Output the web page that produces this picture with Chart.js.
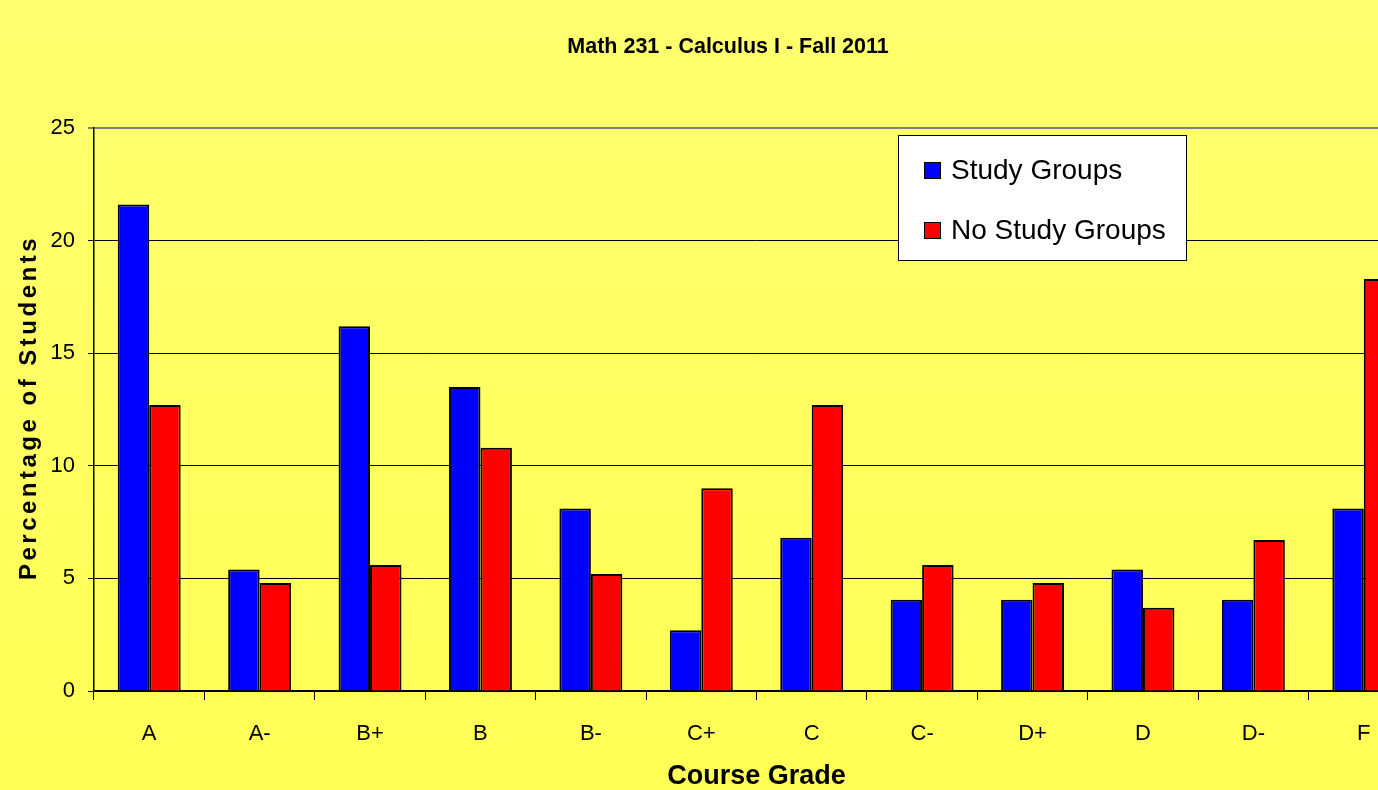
<!DOCTYPE html>
<html>
<head>
<meta charset="utf-8">
<script src="https://cdn.jsdelivr.net/npm/chart.js@4.4.1/dist/chart.umd.min.js"></script>
<style>
  html, body { margin: 0; padding: 0; overflow: hidden; }
  body { width: 1378px; height: 790px; background: linear-gradient(#ffff70, #ffff55); }
  #wrap { width: 1456px; height: 790px; position: relative; }
</style>
</head>
<body>
<div id="wrap"><canvas id="grafico"></canvas></div>
<script>
const grades = ["A", "A-", "B+", "B", "B-", "C+", "C", "C-", "D+", "D", "D-", "F"];
const studyGroups = [21.6, 5.4, 16.2, 13.5, 8.1, 2.7, 6.8, 4.05, 4.05, 5.4, 4.05, 8.1];
const noStudyGroups = [12.7, 4.8, 5.6, 10.8, 5.2, 9.0, 12.7, 5.6, 4.8, 3.7, 6.7, 18.3];
const seriesNames = ["Study Groups", "No Study Groups"];
const yTicks = [0, 5, 10, 15, 20, 25];
const yTitle = "Percentage of Students";

const FONT = "'Liberation Sans', Arial, sans-serif";

// legenda desenhada dentro da area do grafico
const legendaInterna = {
  id: "legendaInterna",
  afterDraw(chart) {
    const { ctx, chartArea } = chart;
    const x = chartArea.left + 804;
    const y = chartArea.top + 7;
    const w = 288, h = 125;
    ctx.save();
    ctx.fillStyle = "#fff";
    ctx.fillRect(x, y, w, h);
    ctx.strokeStyle = "#000";
    ctx.lineWidth = 1;
    ctx.strokeRect(x + 0.5, y + 0.5, w, h);
    ctx.font = "28px " + FONT;
    ctx.textBaseline = "middle";
    chart.data.datasets.forEach((ds, i) => {
      const cy = y + 35 + i * 60;
      ctx.fillStyle = ds.backgroundColor;
      ctx.fillRect(x + 26, cy - 8, 17, 17);
      ctx.strokeRect(x + 26.5, cy - 7.5, 16, 16);
      ctx.fillStyle = "#000";
      ctx.fillText(ds.label, x + 53, cy + 1);
    });
    ctx.restore();
  }
};

// titulo do eixo y com espacamento entre letras
const tituloY = {
  id: "tituloY",
  afterDraw(chart) {
    const { ctx, chartArea } = chart;
    ctx.save();
    ctx.translate(29, (chartArea.top + chartArea.bottom) / 2);
    ctx.rotate(-Math.PI / 2);
    ctx.font = "bold 24px " + FONT;
    ctx.letterSpacing = "3.5px";
    ctx.fillStyle = "#000";
    ctx.textAlign = "center";
    ctx.textBaseline = "middle";
    ctx.fillText(yTitle, 2, 0);
    ctx.restore();
  }
};

new Chart(document.getElementById("grafico"), {
  type: "bar",
  data: {
    labels: grades,
    datasets: [
      { label: seriesNames[0], data: studyGroups, backgroundColor: "#0000ff", borderColor: "#000", borderWidth: 2 },
      { label: seriesNames[1], data: noStudyGroups, backgroundColor: "#ff0000", borderColor: "#000", borderWidth: 2 }
    ]
  },
  options: {
    responsive: true,
    maintainAspectRatio: false,
    animation: false,
    layout: { padding: { left: 37, right: 37, top: 0, bottom: 0 } },
    datasets: { bar: { categoryPercentage: 0.57, barPercentage: 1 } },
    plugins: {
      legend: { display: false },
      tooltip: { enabled: false },
      title: {
        display: true,
        text: "Math 231 - Calculus I - Fall 2011",
        color: "#000",
        font: { family: FONT, size: 21.5, weight: "bold", lineHeight: 1 },
        padding: { top: 36, bottom: 70.5 }
      }
    },
    scales: {
      x: {
        afterFit: s => { s.height = 99; },
        grid: { offset: true, drawOnChartArea: false, color: "#000", tickLength: 9 },
        border: { color: "#000", width: 1.5 },
        ticks: { color: "#000", font: { family: FONT, size: 22 }, padding: 21, maxRotation: 0 },
        title: {
          display: true,
          text: "Course Grade",
          color: "#000",
          font: { family: FONT, size: 27, weight: "bold", lineHeight: 1 },
          padding: 0
        }
      },
      y: {
        min: 0,
        max: 25,
        afterFit: s => { s.width = 57; },
        afterBuildTicks: s => { s.ticks = yTicks.map(v => ({ value: v })); },
        grid: {
          color: c => (c.tick && c.tick.value === 25 ? "#808080" : "#000"),
          lineWidth: c => (c.tick && c.tick.value === 25 ? 2 : 1),
          tickLength: 6
        },
        border: { color: "#000", width: 1.5 },
        ticks: { color: "#000", font: { family: FONT, size: 22 }, padding: 13 }
      }
    }
  },
  plugins: [legendaInterna, tituloY]
});
</script>
</body>
</html>
